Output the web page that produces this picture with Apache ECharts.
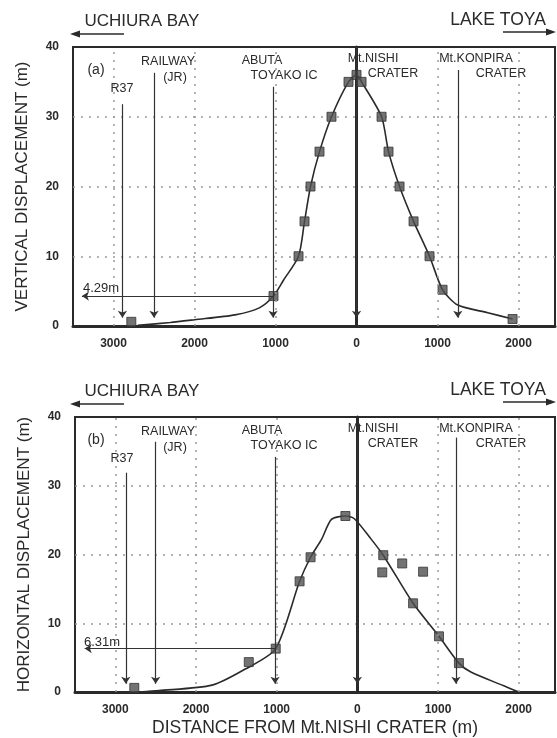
<!DOCTYPE html>
<html>
<head>
<meta charset="utf-8">
<script src="https://cdn.jsdelivr.net/npm/echarts@6/dist/echarts.min.js"></script>
<style>
  html, body { margin: 0; padding: 0; background: #fff; }
  #main { width: 557px; height: 738px; }
</style>
</head>
<body>
<div id="main"></div>
<script>
// distance from Mt.Nishi crater: negative = toward Uchiura Bay (left)
// (a) vertical displacement
const ptsAx = [-2780, -1025, -716, -642, -568, -457, -309, -99, 0, 62, 309, 395, 531, 704, 901, 1062, 1926];
const ptsAy = [0.6, 4.29, 10, 15, 20, 25, 30, 35, 36, 35, 30, 25, 20, 15, 10, 5.2, 1.0];
const curveAx = [-2700, -2300, -2000, -1500, -1200, -1025, -900, -716, -642, -568, -457, -309, -99, 0, 62, 309, 395, 531, 704, 901, 1062, 1250, 1620, 1926];
const curveAy = [0.1, 0.5, 0.9, 1.6, 2.6, 4.29, 6.6, 10, 15, 20, 25, 30, 35, 36, 35, 30, 25, 20, 15, 10, 5.2, 3.0, 1.9, 1.0];

// (b) horizontal displacement
const ptsBx = [-2765, -1346, -1012, -716, -580, -148, 321, 309, 556, 815, 691, 1012, 1259];
const ptsBy = [0.6, 4.35, 6.31, 16.1, 19.6, 25.6, 19.9, 17.4, 18.7, 17.5, 12.9, 8.1, 4.2];
const curveBx = [-2700, -2460, -1800, -1395, -1012, -716, -580, -444, -321, -148, -37, 173, 321, 691, 1012, 1259, 1407, 1815, 2000];
const curveBy = [0.0, 0.2, 1.0, 3.3, 6.31, 16.1, 19.6, 22.2, 25.1, 25.6, 25.2, 22.2, 19.9, 12.9, 8.1, 4.2, 2.9, 0.9, 0.0];

// landmark lines (distance, top of line in m)
const markDistA = [-2890, -2500, -1030, 0, 1250];
const markTopA = [31.8, 36.3, 34.3, 40, 36.7];
const markDistB = [-2870, -2500, -1020, 0, 1222];
const markTopB = [31.9, 36.4, 34.2, 37.1, 37];
const gridDist = [-3000, -2000, -1000, 1000, 2000];
const xTicks = [-3000, -2000, -1000, 0, 1000, 2000];
const refA = { label: '4.29m', x: -1025, y: 4.29, to: -3390 };
const refB = { label: '6.31m', x: -1012, y: 6.31, to: -3380 };

const zip = (xs, ys) => xs.map((x, i) => [x, ys[i]]);
const FONT = 'Liberation Sans, Arial, sans-serif';
const INK = '#2a2a2a';

var myChart = echarts.init(document.getElementById('main'));

function xAxisCfg(idx, name) {
  return {
    type: 'value', gridIndex: idx, min: -3500, max: 2450,
    name: name, nameLocation: 'middle', nameGap: 27,
    nameTextStyle: { fontFamily: FONT, fontSize: 17.5, color: INK },
    axisLine: { show: true, lineStyle: { color: INK, width: 3 } },
    axisTick: { show: false },
    splitLine: { show: false },
    axisLabel: {
      customValues: xTicks, margin: 12,
      fontFamily: FONT, fontSize: 12, fontWeight: 'bold', color: INK,
      formatter: v => String(Math.abs(v))
    }
  };
}
function yAxisCfg(idx, name) {
  return {
    type: 'value', gridIndex: idx, min: 0, max: 40, interval: 10,
    name: name, nameLocation: 'middle', nameGap: 42,
    nameTextStyle: { fontFamily: FONT, fontSize: 17, color: INK },
    axisLine: { show: true, lineStyle: { color: INK, width: 3 } },
    axisTick: { show: false },
    axisLabel: { margin: 14, fontFamily: FONT, fontSize: 12, fontWeight: 'bold', color: INK },
    splitLine: { show: true, showMaxLine: false, lineStyle: { color: '#999', type: [2, 6], width: 1.5 } }
  };
}
function landmarkLines(dist, tops) {
  return dist.map((d, i) => [
    { coord: [d, tops[i]], symbol: 'none' },
    { coord: [d, 1.2], symbol: 'arrow' }
  ]);
}
function series(idx, px, py, cx, cy, dist, tops, ref) {
  return [
    {
      type: 'line', xAxisIndex: idx, yAxisIndex: idx,
      data: zip(cx, cy), smooth: 0.25, showSymbol: false,
      lineStyle: { color: INK, width: 1.6 }, z: 3,
      markLine: {
        silent: true, symbolSize: 7,
        lineStyle: { color: '#333', width: 1.2, type: 'solid' },
        label: { show: false },
        data: landmarkLines(dist, tops).concat([[
          { coord: [ref.x, ref.y], symbol: 'none' },
          { coord: [ref.to, ref.y], symbol: 'arrow' }
        ]])
      }
    },
    {
      type: 'scatter', xAxisIndex: idx, yAxisIndex: idx,
      data: zip(px, py), symbol: 'rect', symbolSize: 9,
      itemStyle: { color: '#505050', borderColor: '#333', borderWidth: 1 }, z: 4,
      markLine: {
        silent: true, symbol: 'none',
        lineStyle: { color: '#999', type: [2, 6], width: 1.5 },
        label: { show: false },
        data: gridDist.map(d => ({ xAxis: d }))
      }
    }
  ];
}

const T = (text, x, y, size, align) => ({
  type: 'text', x: x, y: y, silent: true,
  style: { text: text, fontFamily: FONT, fontSize: size || 12.5, fill: INK,
    textAlign: align || 'center', textVerticalAlign: 'middle' }
});
const arrow = (x1, x2, y) => {
  const dir = x2 < x1 ? -1 : 1;
  return [
    { type: 'line', silent: true, shape: { x1: x1, y1: y, x2: x2 - dir * 8, y2: y }, style: { stroke: INK, lineWidth: 1.5 } },
    { type: 'polygon', silent: true, shape: { points: [[x2, y], [x2 - dir * 10, y - 3.5], [x2 - dir * 10, y + 3.5]] }, style: { fill: INK } }
  ];
};
function panelText(dy, tag) {
  return [
    T('UCHIURA BAY', 142, 21 + dy, 17),
    T('LAKE TOYA', 498, 20 + dy, 17.5),
    ...arrow(124, 70, 34 + dy),
    ...arrow(503, 556, 32 + dy),
    T(tag, 96, 70 + dy, 14),
    T('RAILWAY', 168, 62 + dy), T('(JR)', 175, 78 + dy),
    T('R37', 122, 89 + dy),
    T('ABUTA', 262, 61 + dy), T('TOYAKO IC', 284, 76 + dy),
    T('Mt.NISHI', 373, 59 + dy), T('CRATER', 393, 74 + dy),
    T('Mt.KONPIRA', 476, 59 + dy), T('CRATER', 501, 74 + dy)
  ];
}

var option = {
  animation: false,
  backgroundColor: '#fff',
  grid: [
    { left: 73, top: 47, width: 482, height: 279, show: true, borderColor: INK, borderWidth: 2 },
    { left: 75, top: 417, width: 480, height: 276, show: true, borderColor: INK, borderWidth: 2 }
  ],
  xAxis: [xAxisCfg(0, ''), xAxisCfg(1, 'DISTANCE FROM Mt.NISHI CRATER (m)')],
  yAxis: [yAxisCfg(0, 'VERTICAL DISPLACEMENT (m)'), yAxisCfg(1, 'HORIZONTAL DISPLACEMENT (m)')],
  series: [
    ...series(0, ptsAx, ptsAy, curveAx, curveAy, markDistA, markTopA, refA),
    ...series(1, ptsBx, ptsBy, curveBx, curveBy, markDistB, markTopB, refB)
  ],
  graphic: [
    ...panelText(0, '(a)'),
    ...panelText(370, '(b)'),
    T(refA.label, 101, 288, 13),
    T(refB.label, 102, 642, 13)
  ]
};
myChart.setOption(option);
</script>
</body>
</html>
